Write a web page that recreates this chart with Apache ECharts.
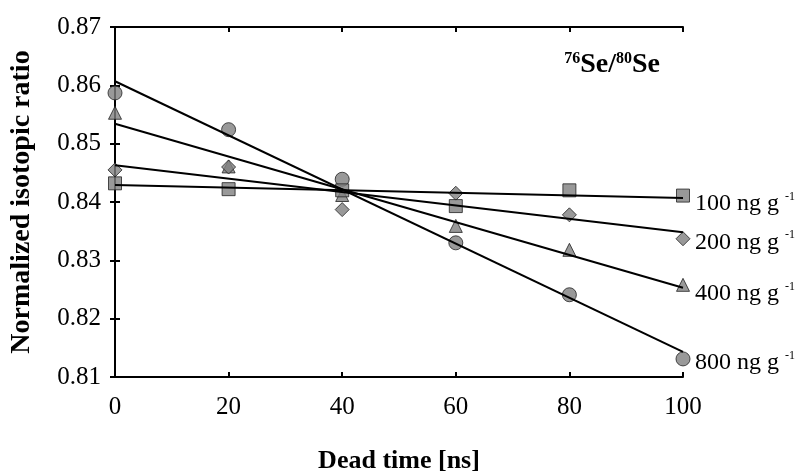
<!DOCTYPE html>
<html>
<head>
<meta charset="utf-8">
<script src="https://cdn.jsdelivr.net/npm/echarts@6/dist/echarts.min.js"></script>
<style>
  html, body { margin: 0; padding: 0; background: #fff; }
  #chart-panel { width: 803px; height: 474px; }
</style>
</head>
<body>
<div id="chart-panel"></div>
<script>
// dead time [ns]
var deadTime = [0, 20, 40, 60, 80, 100];

// measured normalized ratios per concentration
var conc100 = [0.8432, 0.8422, 0.8420, 0.8393, 0.8420, 0.8411];
var conc200 = [0.8455, 0.8460, 0.8387, 0.8415, 0.8378, 0.8337];
var conc400 = [0.8553, 0.8461, 0.8412, 0.8359, 0.8318, 0.8258];
var conc800 = [0.8587, 0.8524, 0.8439, 0.8330, 0.8241, 0.8131];

// fitted lines (value at 0 ns and at 100 ns)
var fitX = [0, 100];
var fit100 = [0.8429, 0.8407];
var fit200 = [0.8463, 0.8348];
var fit400 = [0.8534, 0.8253];
var fit800 = [0.8607, 0.8143];

var concLabels = ['100', '200', '400', '800'];

var serif = '"Liberation Serif", "Times New Roman", serif';
var markerColor = '#808080';
var markerBorder = '#222';

function pts(xs, ys) {
    return xs.map(function (x, i) { return [x, ys[i]]; });
}

function scatter(name, ys, symbol, size) {
    return {
        name: name,
        type: 'scatter',
        data: pts(deadTime, ys),
        symbol: symbol,
        symbolSize: size,
        itemStyle: { color: markerColor, borderColor: markerBorder, borderWidth: 1 },
        z: 3
    };
}

function fit(ys, label, offY) {
    return {
        type: 'line',
        data: pts(fitX, ys),
        showSymbol: false,
        silent: true,
        lineStyle: { color: '#000', width: 2 },
        z: 4,
        endLabel: {
            show: true,
            offset: [4, offY],
            formatter: function () { return '{n|' + label + ' ng g }{s|-1}'; },
            rich: {
                n: { fontFamily: serif, fontSize: 24, color: '#000' },
                s: { fontFamily: serif, fontSize: 12, color: '#000', padding: [0, 0, 14, 0] }
            }
        }
    };
}

var chartOption = {
    backgroundColor: '#fff',
    animation: false,
    grid: {
        left: 115,
        right: 120,
        top: 27,
        bottom: 97,
        outerBoundsMode: 'none',
        containLabel: false,
        show: false
    },
    title: {
        text: '{sup|76}{b|Se/}{sup|80}{b|Se}',
        right: 138,
        top: 46,
        textStyle: {
            rich: {
                b: { fontFamily: serif, fontSize: 28, fontWeight: 'bold', color: '#000' },
                sup: { fontFamily: serif, fontSize: 16, fontWeight: 'bold', color: '#000', padding: [0, 0, 12, 0] }
            }
        }
    },
    xAxis: [{
        type: 'value',
        min: 0,
        max: 100,
        interval: 20,
        name: 'Dead time [ns]',
        nameLocation: 'middle',
        nameGap: 71,
        nameTextStyle: { fontFamily: serif, fontSize: 26, fontWeight: 'bold', color: '#000' },
        axisLine: { lineStyle: { color: '#000', width: 2 } },
        axisTick: { inside: true, length: 5, lineStyle: { color: '#000', width: 2 } },
        axisLabel: { fontFamily: serif, fontSize: 25, color: '#000', margin: 18 },
        splitLine: { show: false }
    }, {
        type: 'value',
        position: 'top',
        min: 0,
        max: 100,
        interval: 20,
        axisLine: { lineStyle: { color: '#000', width: 2 } },
        axisTick: { inside: true, length: 5, lineStyle: { color: '#000', width: 2 } },
        axisLabel: { show: false },
        splitLine: { show: false }
    }],
    yAxis: [{
        type: 'value',
        min: 0.81,
        max: 0.87,
        interval: 0.01,
        name: 'Normalized isotopic ratio',
        nameLocation: 'middle',
        nameGap: 79,
        nameTextStyle: { fontFamily: serif, fontSize: 28, fontWeight: 'bold', color: '#000' },
        axisLine: { show: true, lineStyle: { color: '#000', width: 2 } },
        axisTick: { show: true, inside: true, length: 5, lineStyle: { color: '#000', width: 2 } },
        axisLabel: {
            fontFamily: serif, fontSize: 25, color: '#000', margin: 14,
            formatter: function (v) { return v.toFixed(2); }
        },
        splitLine: { show: false }
    }, {
        type: 'value',
        position: 'right',
        min: 0.81,
        max: 0.87,
        interval: 0.01,
        axisLine: { show: true, lineStyle: { color: '#000', width: 2 } },
        axisTick: { show: true, inside: true, length: 5, lineStyle: { color: '#000', width: 2 } },
        axisLabel: { show: false },
        splitLine: { show: false }
    }],
    series: [
        scatter('800', conc800, 'circle', 14),
        scatter('400', conc400, 'triangle', 13),
        scatter('200', conc200, 'diamond', 14),
        scatter('100', conc100, 'rect', 13),
        fit(fit100, concLabels[0], 6),
        fit(fit200, concLabels[1], 10),
        fit(fit400, concLabels[2], 6),
        fit(fit800, concLabels[3], 11)
    ]
};

var myChart = echarts.init(document.getElementById('chart-panel'));
myChart.setOption(chartOption);
</script>
</body>
</html>
